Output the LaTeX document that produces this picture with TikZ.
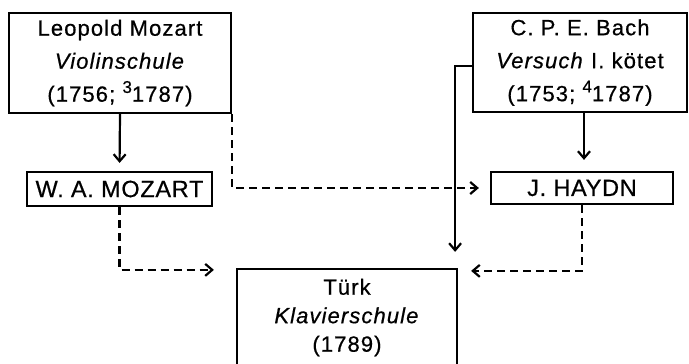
\documentclass[tikz,border=0pt]{standalone}
\usepackage{fontspec}
\setmainfont{Liberation Sans}
\usetikzlibrary{arrows.meta}
\newfontfamily\boxfont[LetterSpace=5,FakeBold=0.6]{Liberation Sans}
\newfontfamily\namefont[LetterSpace=3,FakeBold=0.6]{Liberation Sans}
\newcommand{\supnum}[1]{\raisebox{0.4em}{\fontsize{17}{17}\selectfont #1}}
\tikzset{
  box/.style={draw, line width=2.2pt, rectangle, inner sep=0pt, align=center,
    font=\boxfont\fontsize{22}{33}\selectfont},
  namebox/.style={draw, line width=2.2pt, rectangle, inner sep=0pt,
    font=\namefont\fontsize{23.5}{23.5}\selectfont},
  solidarrow/.style={line width=2.2pt, -{Straight Barb[length=7pt,width=12pt,line width=2.2pt]}},
  dasharrow/.style={solidarrow, dash pattern=on 8pt off 5pt}
}
\begin{document}
\begin{tikzpicture}[x=1pt,y=-1pt]
\useasboundingbox (0,0) rectangle (689,364);
\node[box, minimum width=222pt, minimum height=100pt] (leo) at (120,63)
  {Leopold Mozart\\ \textit{Violinschule}\\ (1756; \supnum{3}1787)};
\node[box, minimum width=214pt, minimum height=99pt] (bach) at (580,62.5)
  {C. P. E. Bach\\ \textit{Versuch} I. kötet\\ (1753; \supnum{4}1787)};
\node[namebox, minimum width=185pt, minimum height=34pt] (wam) at (119.5,189) {W. A. MOZART};
\node[namebox, minimum width=182pt, minimum height=32pt] (hay) at (582,188) {J. HAYDN};
\node[box, minimum width=220pt, minimum height=97pt, font=\boxfont\fontsize{22}{28.5}\selectfont] (turk) at (347,317.5)
  {Türk\\ \textit{Klavierschule}\\ (1789)};
% solid arrows
\draw[solidarrow, shorten >=8pt] (leo.south) -- (wam.north);
\draw[solidarrow, shorten >=11pt] ([xshift=4pt]bach.south) -- ([xshift=2pt]hay.north);
\coordinate (bachout) at ([yshift=-3.5pt]bach.west);
\coordinate (bachdown) at ([xshift=-3pt]turk.north east);
\draw[solidarrow, shorten >=16pt] (bachout) -| (bachdown);
% dashed arrows
\draw[dasharrow, shorten >=11pt] (leo.south east) |- (hay.west);
\draw[dasharrow, shorten >=22pt] (wam.south) |- ([yshift=-2pt]turk.north west);
\draw[dasharrow, shorten >=13pt] (hay.south) |- ([yshift=-3pt]turk.north east);
\end{tikzpicture}
\end{document}
